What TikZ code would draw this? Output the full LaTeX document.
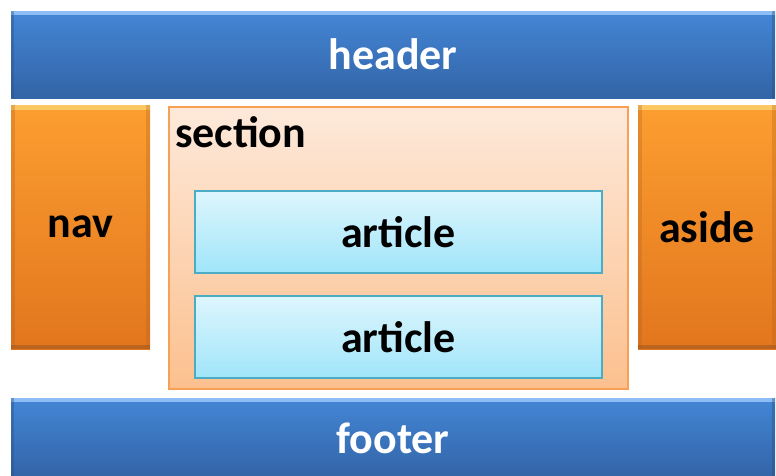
\documentclass[tikz,border=0pt]{standalone}
\usepackage{fontspec}
\setmainfont{Carlito}
\definecolor{bartop}{RGB}{68,134,214}
\definecolor{barbot}{RGB}{50,100,166}
\definecolor{barhl}{RGB}{140,190,245}
\definecolor{sidetop}{RGB}{252,158,48}
\definecolor{sidebot}{RGB}{226,118,30}
\definecolor{sidehl}{RGB}{252,200,100}
\definecolor{sidedk}{RGB}{178,96,30}
\definecolor{secttop}{RGB}{253,233,218}
\definecolor{sectbot}{RGB}{252,192,142}
\definecolor{sectline}{RGB}{248,160,85}
\definecolor{arttop}{RGB}{222,246,253}
\definecolor{artbot}{RGB}{160,229,250}
\definecolor{artline}{RGB}{75,172,198}
\tikzset{
  box/.style={anchor=north west, inner sep=0pt, outer sep=0pt,
    font=\bfseries\fontsize{44}{46}\selectfont},
  bar/.style={box, top color=bartop, bottom color=barbot, text=white,
    path picture={
      \fill[barhl] (path picture bounding box.north west) rectangle ([yshift=-4pt]path picture bounding box.north east);
      \fill[barbot!80!black, opacity=0.4] (path picture bounding box.north west) rectangle ([xshift=3pt]path picture bounding box.south west);
      \fill[barbot!80!black, opacity=0.4] (path picture bounding box.north east) rectangle ([xshift=-3pt]path picture bounding box.south east);}},
  side/.style={box, top color=sidetop, bottom color=sidebot,
    path picture={
      \fill[sidehl] (path picture bounding box.north west) rectangle ([yshift=-5pt]path picture bounding box.north east);
      \fill[sidedk, opacity=0.8] (path picture bounding box.south west) rectangle ([yshift=4pt]path picture bounding box.south east);
      \fill[sidedk, opacity=0.3] (path picture bounding box.north west) rectangle ([xshift=4pt]path picture bounding box.south west);
      \fill[sidedk, opacity=0.3] (path picture bounding box.north east) rectangle ([xshift=-4pt]path picture bounding box.south east);}},
  sect/.style={box, draw=sectline, line width=1.5pt, top color=secttop, bottom color=sectbot},
  art/.style={box, draw=artline, line width=1.5pt, top color=arttop, bottom color=artbot}
}
\begin{document}
\begin{tikzpicture}[x=1pt, y=-1pt]
\useasboundingbox (0,0) rectangle (776,475);
% bars
\node[bar, minimum width=764pt, minimum height=87pt] (header) at (11,11) {header};
\node[bar, minimum width=764pt, minimum height=80pt] (footer) at (11,398) {footer};
% sides
\node[side, minimum width=139pt, minimum height=244pt] (nav) at (11,105) {nav};
\node[side, minimum width=138pt, minimum height=244pt] (aside) at (638,105) {aside};
% section with two articles
\node[sect, minimum width=459pt, minimum height=282pt] (section) at (169,107) {};
\node[box, anchor=base west] (sectlabel) at (175,147) {section};
\node[art, minimum width=407pt, minimum height=82pt] (article1) at (195,191) {article};
\node[art, minimum width=407pt, minimum height=82pt] (article2) at (195,296) {article};
\end{tikzpicture}
\end{document}
